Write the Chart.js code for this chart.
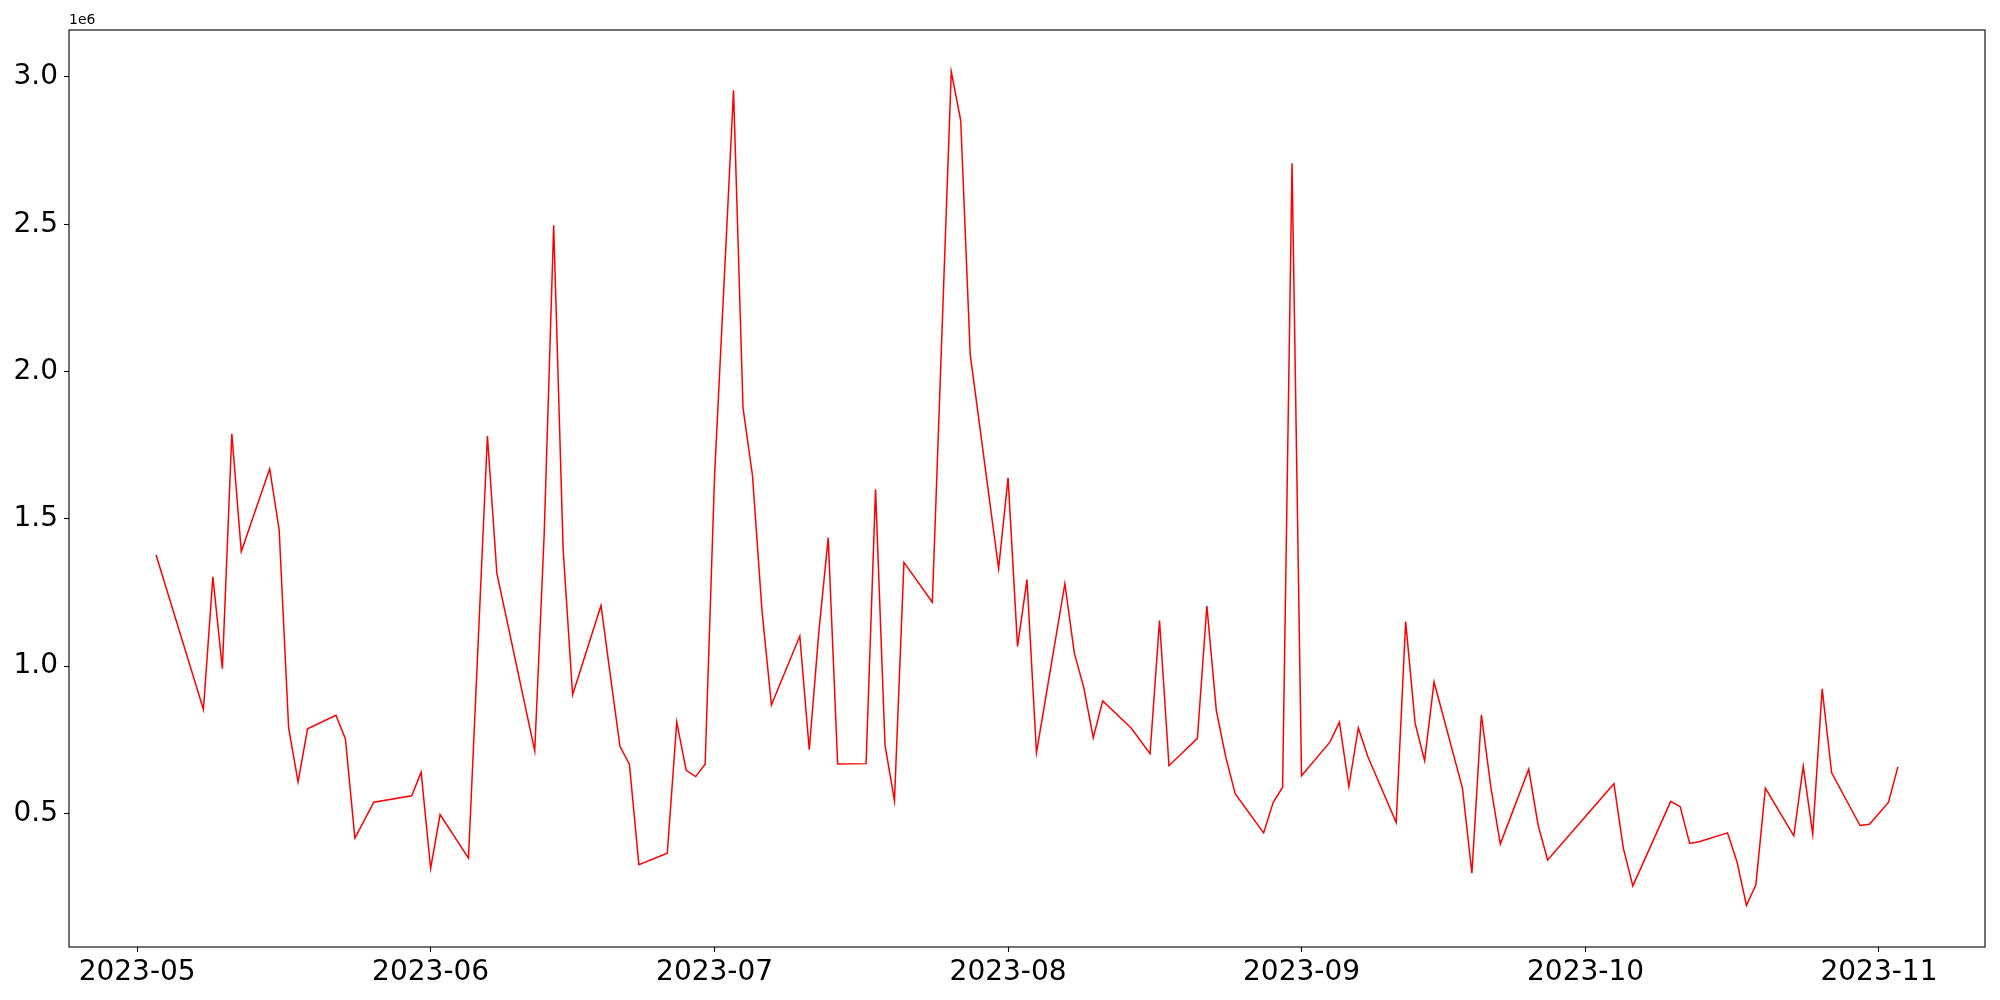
<!DOCTYPE html>
<html>
<head>
<meta charset="utf-8">
<script src="https://cdn.jsdelivr.net/npm/chart.js@4.4.0/dist/chart.umd.min.js"></script>
<style>
  body { margin: 0; background: #fff; }
</style>
</head>
<body>
<canvas id="chart" width="2000" height="1000"></canvas>
<script>
// Daily values (gaps are missing days)
const dates = [
  "2023-05-03", "2023-05-08", "2023-05-09", "2023-05-10", "2023-05-11", "2023-05-12",
  "2023-05-15", "2023-05-16", "2023-05-17", "2023-05-18", "2023-05-19",
  "2023-05-22", "2023-05-23", "2023-05-24", "2023-05-26",
  "2023-05-30", "2023-05-31", "2023-06-01", "2023-06-02",
  "2023-06-05", "2023-06-07", "2023-06-08",
  "2023-06-12", "2023-06-13", "2023-06-14", "2023-06-15", "2023-06-16",
  "2023-06-19", "2023-06-20", "2023-06-21", "2023-06-22", "2023-06-23",
  "2023-06-26", "2023-06-27", "2023-06-28", "2023-06-29", "2023-06-30", "2023-07-01",
  "2023-07-03", "2023-07-04", "2023-07-05", "2023-07-06", "2023-07-07",
  "2023-07-10", "2023-07-11", "2023-07-12", "2023-07-13", "2023-07-14",
  "2023-07-17", "2023-07-18", "2023-07-19", "2023-07-20", "2023-07-21",
  "2023-07-24", "2023-07-26", "2023-07-27", "2023-07-28",
  "2023-07-31", "2023-08-01", "2023-08-02", "2023-08-03", "2023-08-04",
  "2023-08-07", "2023-08-08", "2023-08-09", "2023-08-10", "2023-08-11",
  "2023-08-14", "2023-08-16", "2023-08-17", "2023-08-18",
  "2023-08-21", "2023-08-22", "2023-08-23", "2023-08-24", "2023-08-25",
  "2023-08-28", "2023-08-29", "2023-08-30", "2023-08-31", "2023-09-01",
  "2023-09-04", "2023-09-05", "2023-09-06", "2023-09-07", "2023-09-08",
  "2023-09-11", "2023-09-12", "2023-09-13", "2023-09-14", "2023-09-15",
  "2023-09-18", "2023-09-19", "2023-09-20", "2023-09-21", "2023-09-22",
  "2023-09-25", "2023-09-26", "2023-09-27",
  "2023-10-04", "2023-10-05", "2023-10-06",
  "2023-10-10", "2023-10-11", "2023-10-12", "2023-10-13",
  "2023-10-16", "2023-10-17", "2023-10-18", "2023-10-19", "2023-10-20",
  "2023-10-23", "2023-10-24", "2023-10-25", "2023-10-26", "2023-10-27",
  "2023-10-30", "2023-10-31", "2023-11-02", "2023-11-03"
];

const values = [
  1377000, 853000, 1303000, 991000, 1789000, 1389000,
  1670000, 1463000, 790000, 607000, 787000,
  833000, 753000, 416000, 538000,
  560000, 640000, 313000, 496000,
  348000, 1781000, 1315000,
  712000, 1450000, 2497000, 1395000, 903000,
  1206000, 965000, 728000, 667000, 326000,
  365000, 810000, 646000, 625000, 667000, 1650000,
  2955000, 1877000, 1647000, 1190000, 868000,
  1102000, 716000, 1112000, 1436000, 668000,
  669000, 1600000, 732000, 543000, 1352000,
  1217000, 3018000, 2852000, 2058000,
  1331000, 1639000, 1067000, 1294000, 706000,
  1280000, 1044000, 927000, 757000, 882000,
  790000, 703000, 1155000, 662000,
  755000, 1204000, 849000, 691000, 566000,
  434000, 537000, 589000, 2707000, 628000,
  742000, 810000, 591000, 790000, 693000,
  469000, 1151000, 806000, 679000, 946000,
  586000, 297000, 835000, 589000, 396000,
  650000, 459000, 342000,
  601000, 381000, 254000,
  541000, 523000, 398000, 404000,
  434000, 336000, 188000, 258000, 586000,
  424000, 660000, 430000, 923000, 638000,
  459000, 463000, 537000, 658000
];

const monthTicks = ["2023-05", "2023-06", "2023-07", "2023-08", "2023-09", "2023-10", "2023-11"];
const yTicks = [500000, 1000000, 1500000, 2000000, 2500000, 3000000];

// days since 2023-05-01, used as the linear x value
const origin = Date.UTC(2023, 4, 1);
function dayNum(s) {
  const p = s.split("-").map(Number);
  return (Date.UTC(p[0], p[1] - 1, p[2] || 1) - origin) / 86400000;
}

const points = dates.map((d, i) => ({ x: dayNum(d), y: values[i] }));
const tickDays = monthTicks.map(dayNum);

// matplotlib-like margins (5%)
const xMinData = Math.min(...points.map(p => p.x));
const xMaxData = Math.max(...points.map(p => p.x));
const yMinData = Math.min(...values);
const yMaxData = Math.max(...values);
const xPad = (xMaxData - xMinData) * 0.05;
const yPad = (yMaxData - yMinData) * 0.05;

const frame = {
  id: "frame",
  afterDraw(chart) {
    const { ctx, chartArea: a } = chart;
    ctx.save();
    ctx.strokeStyle = "#000";
    ctx.lineWidth = 1.1;
    ctx.strokeRect(a.left, a.top, a.right - a.left, a.bottom - a.top);
    ctx.fillStyle = "#000";
    ctx.font = "14px 'DejaVu Sans'";
    ctx.textAlign = "left";
    ctx.textBaseline = "alphabetic";
    ctx.fillText("1e6", a.left, a.top - 6);
    ctx.restore();
  }
};

const tickFont = { family: "'DejaVu Sans'", size: 28 };

new Chart(document.getElementById("chart").getContext("2d"), {
  type: "line",
  data: {
    datasets: [{
      data: points,
      borderColor: "#ff0000",
      borderWidth: 1.5,
      pointRadius: 0,
      tension: 0,
      fill: false
    }]
  },
  options: {
    responsive: false,
    animation: false,
    devicePixelRatio: 1,
    layout: { padding: { top: 30, right: 15, left: 0, bottom: 0 } },
    plugins: { legend: { display: false }, tooltip: { enabled: false } },
    scales: {
      x: {
        type: "linear",
        min: xMinData - xPad,
        max: xMaxData + xPad,
        afterBuildTicks: s => { s.ticks = tickDays.map(v => ({ value: v })); },
        afterFit: s => { s.height = 53; },
        border: { display: false },
        grid: { drawOnChartArea: false, drawTicks: true, tickLength: 5, color: "#000", tickWidth: 1.1 },
        ticks: {
          autoSkip: false,
          maxRotation: 0,
          padding: 4,
          color: "#000",
          font: tickFont,
          callback: v => monthTicks[tickDays.indexOf(v)] || ""
        }
      },
      y: {
        type: "linear",
        min: yMinData - yPad,
        max: yMaxData + yPad,
        afterBuildTicks: s => { s.ticks = yTicks.map(v => ({ value: v })); },
        afterFit: s => { s.width = 69; },
        border: { display: false },
        grid: { drawOnChartArea: false, drawTicks: true, tickLength: 5, color: "#000", tickWidth: 1.1 },
        ticks: {
          padding: 6,
          color: "#000",
          font: tickFont,
          callback: v => (v / 1e6).toFixed(1)
        }
      }
    }
  },
  plugins: [frame]
});
</script>
</body>
</html>
